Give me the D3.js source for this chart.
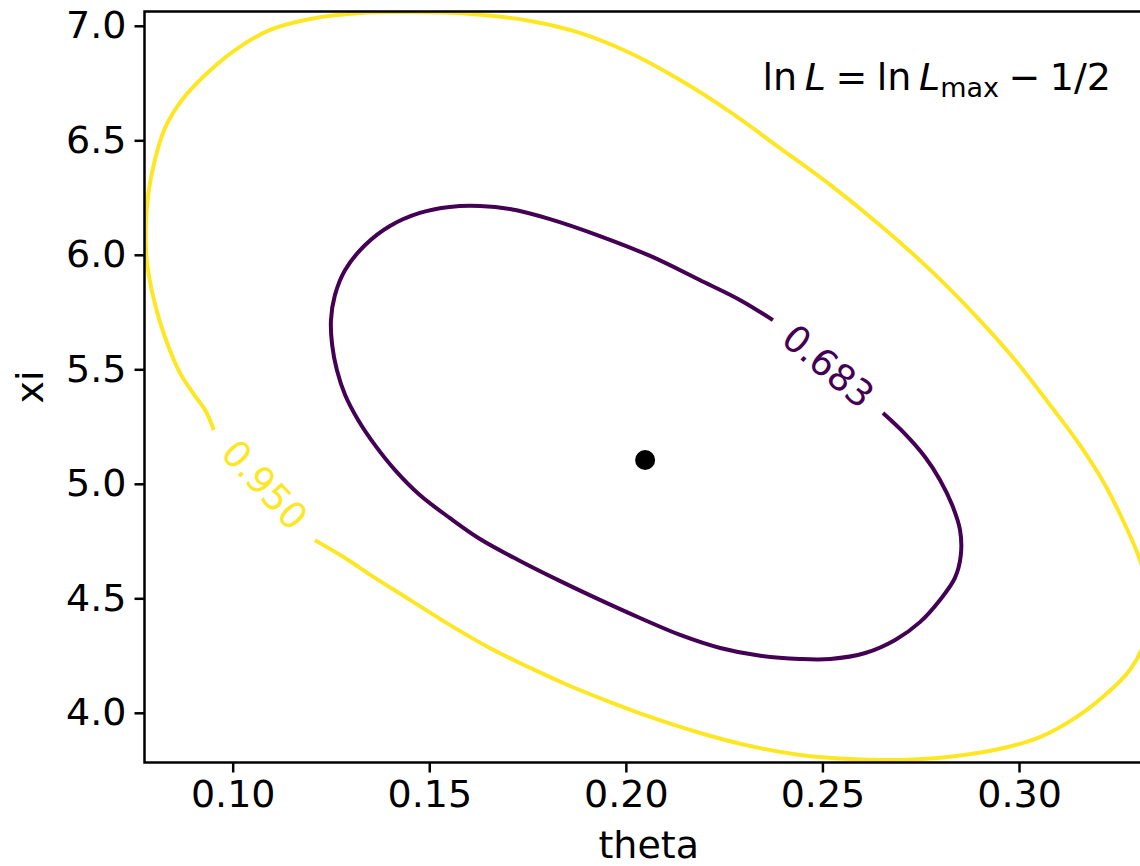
<!DOCTYPE html>
<html>
<head>
<meta charset="utf-8">
<script src="https://cdn.jsdelivr.net/npm/d3@7"></script>
<style>
  html, body { margin: 0; padding: 0; background: #fff; }
  svg { display: block; font-family: "DejaVu Sans", sans-serif; }
</style>
</head>
<body>
<svg id="chart" width="1140" height="866"></svg>
<script>
// ---- data ----
const thetaTicks = [0.10, 0.15, 0.20, 0.25, 0.30];
const xiTicks = [4.0, 4.5, 5.0, 5.5, 6.0, 6.5, 7.0];
const thetaRange = [0.07757, 0.33408];
const xiRange = [3.783, 7.0624];
const levelLabels = ["0.683", "0.950"];
const levelColors = ["#440154", "#fde725"];
const bestFit = [0.2049, 5.104];

// 0.683 contour (open path: the gap is where the label sits)
const contour683 = [
  [0.2374, 5.715], [0.2290, 5.803], [0.2188, 5.890], [0.2062, 5.995], [0.1934, 6.082],
  [0.1807, 6.156], [0.1705, 6.200], [0.1629, 6.213], [0.1552, 6.209], [0.1476, 6.183],
  [0.1400, 6.126], [0.1337, 6.043], [0.1286, 5.934], [0.1260, 5.824], [0.1250, 5.715],
  [0.1253, 5.606], [0.1265, 5.497], [0.1286, 5.388], [0.1319, 5.279], [0.1362, 5.169],
  [0.1413, 5.060], [0.1476, 4.951], [0.1552, 4.851], [0.1629, 4.759], [0.1731, 4.663],
  [0.1832, 4.576], [0.1934, 4.493], [0.2036, 4.414], [0.2138, 4.340], [0.2240, 4.283],
  [0.2342, 4.249], [0.2443, 4.235], [0.2520, 4.235], [0.2609, 4.261], [0.2685, 4.318],
  [0.2748, 4.396], [0.2799, 4.493], [0.2837, 4.589], [0.2852, 4.689], [0.2850, 4.798],
  [0.2830, 4.907], [0.2799, 5.017], [0.2761, 5.117], [0.2710, 5.218], [0.2654, 5.309]
];

// 0.950 contour (open path, gap at label)
const contour950 = [
  [0.1209, 4.754], [0.1286, 4.676], [0.1362, 4.589], [0.1451, 4.493], [0.1552, 4.384],
  [0.1654, 4.283], [0.1757, 4.196], [0.1858, 4.117], [0.1960, 4.047], [0.2062, 3.982],
  [0.2189, 3.912], [0.2316, 3.855], [0.2443, 3.816], [0.2570, 3.798], [0.2697, 3.794],
  [0.2824, 3.808], [0.2952, 3.843], [0.3053, 3.894], [0.3143, 3.978], [0.3219, 4.078],
  [0.3282, 4.187], [0.3321, 4.318], [0.3333, 4.449], [0.3323, 4.580], [0.3303, 4.689],
  [0.3270, 4.820], [0.3219, 4.995], [0.3155, 5.169], [0.3079, 5.344], [0.2990, 5.541],
  [0.2888, 5.737], [0.2774, 5.934], [0.2646, 6.130], [0.2520, 6.305], [0.2392, 6.466],
  [0.2265, 6.624], [0.2138, 6.763], [0.2011, 6.881], [0.1883, 6.969], [0.1757, 7.021],
  [0.1604, 7.052], [0.1451, 7.060], [0.1324, 7.056], [0.1197, 7.030], [0.1095, 6.982],
  [0.1006, 6.894], [0.0930, 6.785], [0.0871, 6.676], [0.0828, 6.554], [0.0802, 6.414],
  [0.0785, 6.261], [0.0779, 6.108], [0.0782, 5.969], [0.0795, 5.838], [0.0815, 5.707],
  [0.0840, 5.584], [0.0866, 5.484], [0.0899, 5.396], [0.0930, 5.322], [0.0952, 5.235]
];
const contours = [contour683, contour950];

// ---- layout ----
const margin = { left: 144.5, top: 11.5, right: 1153, bottom: 762.5 };
const svg = d3.select("#chart");
const x = d3.scaleLinear().domain(thetaRange).range([margin.left, margin.right]);
const y = d3.scaleLinear().domain(xiRange).range([margin.bottom, margin.top]);

svg.append("defs").append("clipPath").attr("id", "plotclip")
  .append("rect")
  .attr("x", margin.left).attr("y", margin.top)
  .attr("width", margin.right - margin.left).attr("height", margin.bottom - margin.top);

const plot = svg.append("g").attr("clip-path", "url(#plotclip)");
const line = d3.line().x(d => x(d[0])).y(d => y(d[1])).curve(d3.curveCatmullRom.alpha(0.5));

contours.forEach((pts, i) => {
  plot.append("path")
    .attr("d", line(pts))
    .attr("fill", "none")
    .attr("stroke", levelColors[i])
    .attr("stroke-width", 4)
    .attr("stroke-linejoin", "round");
  // label in the gap between path end and path start
  const a = pts[pts.length - 1], b = pts[0];
  const ax = x(a[0]), ay = y(a[1]), bx = x(b[0]), by = y(b[1]);
  let ang = Math.atan2(ay - by, ax - bx) * 180 / Math.PI;
  if (ang > 90) ang -= 180;
  if (ang < -90) ang += 180;
  const cx = (ax + bx) / 2, cy = (ay + by) / 2;
  svg.append("text")
    .attr("transform", `translate(${cx},${cy}) rotate(${ang})`)
    .attr("text-anchor", "middle")
    .attr("dominant-baseline", "central")
    .attr("fill", levelColors[i])
    .attr("font-size", 37)
    .text(levelLabels[i]);
});

plot.append("circle")
  .attr("cx", x(bestFit[0])).attr("cy", y(bestFit[1]))
  .attr("r", 10).attr("fill", "#000");

// ---- axes ----
const xAxis = d3.axisBottom(x).tickValues(thetaTicks).tickFormat(d3.format(".2f")).tickSize(10).tickPadding(8);
const yAxis = d3.axisLeft(y).tickValues(xiTicks).tickFormat(d3.format(".1f")).tickSize(10).tickPadding(8);

const gx = svg.append("g").attr("transform", `translate(0,${margin.bottom})`).call(xAxis);
const gy = svg.append("g").attr("transform", `translate(${margin.left},0)`).call(yAxis);
[gx, gy].forEach(g => {
  g.select(".domain").remove();
  g.selectAll(".tick line").attr("stroke", "#000").attr("stroke-width", 2.5);
  g.selectAll(".tick text").attr("fill", "#000").attr("font-size", 38)
    .attr("font-family", "DejaVu Sans, sans-serif");
});

// spines
svg.append("rect")
  .attr("x", margin.left).attr("y", margin.top)
  .attr("width", margin.right - margin.left).attr("height", margin.bottom - margin.top)
  .attr("fill", "none").attr("stroke", "#000").attr("stroke-width", 2.5);

// axis labels
svg.append("text")
  .attr("x", (margin.left + margin.right) / 2).attr("y", 858)
  .attr("text-anchor", "middle").attr("font-size", 38).attr("fill", "#000")
  .text("theta");
svg.append("text")
  .attr("transform", `translate(43,${(margin.top + margin.bottom) / 2}) rotate(-90)`)
  .attr("text-anchor", "middle").attr("font-size", 38).attr("fill", "#000")
  .text("xi");

// annotation
const ann = svg.append("text")
  .attr("x", 1111).attr("y", 90)
  .attr("text-anchor", "end").attr("font-size", 38).attr("fill", "#000");
ann.append("tspan").text("ln\u2009");
ann.append("tspan").attr("font-style", "italic").text("L");
ann.append("tspan").text("\u2005=\u2005ln\u2009");
ann.append("tspan").attr("font-style", "italic").text("L");
ann.append("tspan").attr("font-size", 27).attr("dy", 7).text("max");
ann.append("tspan").attr("dy", -7).text("\u2005\u2212\u20051/2");
</script>
</body>
</html>
